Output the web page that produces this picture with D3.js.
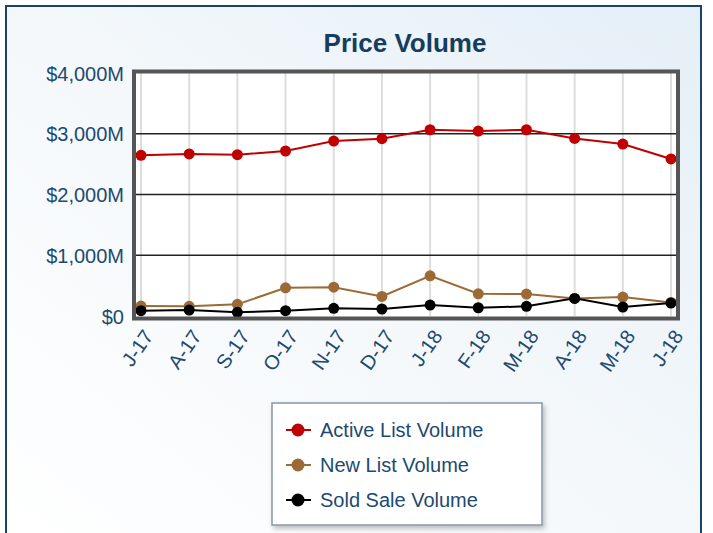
<!DOCTYPE html>
<html>
<head>
<meta charset="utf-8">
<script src="https://cdn.jsdelivr.net/npm/d3@7"></script>
<style>
  body { margin: 0; background: #ffffff; }
  svg { display: block; font-family: "Liberation Sans", Arial, sans-serif; }
</style>
</head>
<body>
<svg></svg>
<script>
// Chart values
const months = ["J-17", "A-17", "S-17", "O-17", "N-17", "D-17", "J-18", "F-18", "M-18", "A-18", "M-18 ", "J-18 "];
const activeList = [2645, 2667, 2656, 2716, 2880, 2918, 3066, 3044, 3066, 2923, 2831, 2585];
const newList = [164, 160, 192, 464, 475, 323, 661, 366, 361, 290, 311, 224];
const soldSale = [87, 98, 60, 87, 126, 115, 180, 136, 159, 290, 148, 213];
const yTicks = [0, 1000, 2000, 3000, 4000];

const seriesNames = ["Active List Volume", "New List Volume", "Sold Sale Volume"];
const seriesColors = ["#c00000", "#9c6b35", "#000000"];

function main() {
    const canvasWidth = 713;
    const canvasHeight = 533;

    let svg = d3.select("svg")
        .attr("width", canvasWidth)
        .attr("height", canvasHeight);

    // background gradient + dark page border
    let defs = svg.append("defs");
    let grad = defs.append("linearGradient")
        .attr("id", "bg")
        .attr("x1", "0%").attr("y1", "100%")
        .attr("x2", "100%").attr("y2", "0%");
    grad.append("stop").attr("offset", "0%").attr("stop-color", "#ffffff");
    grad.append("stop").attr("offset", "50%").attr("stop-color", "#f4f8fb");
    grad.append("stop").attr("offset", "100%").attr("stop-color", "#e5eff7");

    let shadow = defs.append("filter").attr("id", "shadow")
        .attr("x", "-10%").attr("y", "-10%").attr("width", "130%").attr("height", "130%");
    shadow.append("feDropShadow")
        .attr("dx", 2).attr("dy", 3).attr("stdDeviation", 2.5)
        .attr("flood-color", "#000").attr("flood-opacity", 0.25);

    svg.append("rect")
        .attr("x", 6).attr("y", 6)
        .attr("width", 695).attr("height", 540)
        .attr("fill", "url(#bg)")
        .attr("stroke", "#1b4268")
        .attr("stroke-width", 2);

    // plot region
    const plotLeft = 136, plotRight = 676, plotTop = 73, plotBottom = 316;

    let xScale = d3.scalePoint()
        .domain(months)
        .range([141, 671]);

    let yScale = d3.scaleLinear()
        .domain([0, 4000])
        .range([plotBottom, plotTop]);

    svg.append("rect")
        .attr("x", plotLeft).attr("y", plotTop)
        .attr("width", plotRight - plotLeft).attr("height", plotBottom - plotTop + 1)
        .attr("fill", "#ffffff");

    // vertical grid
    svg.append("g")
        .selectAll("line")
        .data(months)
        .join("line")
        .attr("x1", d => xScale(d)).attr("x2", d => xScale(d))
        .attr("y1", plotTop).attr("y2", plotBottom)
        .attr("stroke", "#dddddd")
        .attr("stroke-width", 2);

    // horizontal grid
    svg.append("g")
        .selectAll("line")
        .data(yTicks.filter(t => t > 0 && t < 4000))
        .join("line")
        .attr("x1", plotLeft).attr("x2", plotRight)
        .attr("y1", d => yScale(d)).attr("y2", d => yScale(d))
        .attr("stroke", "#222222")
        .attr("stroke-width", 1.5);

    // y axis labels
    let yAxis = d3.axisLeft(yScale)
        .tickValues(yTicks)
        .tickSize(0)
        .tickPadding(0)
        .tickFormat(d => d === 0 ? "$0" : "$" + d3.format(",")(d) + "M");
    svg.append("g")
        .attr("transform", `translate(124, 0)`)
        .call(yAxis)
        .call(g => g.select(".domain").remove())
        .selectAll("text")
        .attr("font-family", "'Liberation Sans', Arial, sans-serif")
        .attr("font-size", 20)
        .attr("fill", "#1d4a70")
        .attr("dy", "0.35em");

    // x axis labels, rotated
    let xAxis = d3.axisBottom(xScale).tickSize(0).tickPadding(0);
    svg.append("g")
        .attr("transform", `translate(0, ${plotBottom})`)
        .call(xAxis)
        .call(g => g.select(".domain").remove())
        .selectAll("text")
        .attr("font-family", "'Liberation Sans', Arial, sans-serif")
        .attr("font-size", 20)
        .attr("fill", "#1d4a70")
        .attr("y", 0)
        .attr("dy", 0)
        .attr("text-anchor", "end")
        .attr("transform", "translate(7, 16) rotate(-55)")
        .attr("dominant-baseline", "central");

    // series lines and points
    const allSeries = [activeList, newList, soldSale];
    let line = d3.line()
        .x((d, i) => xScale(months[i]))
        .y(d => yScale(d));

    // draw in order so sold sale is on top
    allSeries.forEach((values, k) => {
        svg.append("path")
            .datum(values)
            .attr("fill", "none")
            .attr("stroke", seriesColors[k])
            .attr("stroke-width", 2)
            .attr("d", line);
        svg.append("g")
            .selectAll("circle")
            .data(values)
            .join("circle")
            .attr("cx", (d, i) => xScale(months[i]))
            .attr("cy", d => yScale(d))
            .attr("r", 5.5)
            .attr("fill", seriesColors[k]);
    });

    // plot frame
    svg.append("rect")
        .attr("x", plotLeft - 2).attr("y", plotTop - 1.5)
        .attr("width", plotRight - plotLeft + 4).attr("height", plotBottom - plotTop + 4)
        .attr("fill", "none")
        .attr("stroke", "#555555")
        .attr("stroke-width", 4);

    // title
    svg.append("text")
        .text("Price Volume")
        .attr("x", 405)
        .attr("y", 52)
        .attr("font-size", 26)
        .attr("font-weight", "bold")
        .attr("fill", "#163d5e")
        .style("text-anchor", "middle");

    // legend
    let legend = svg.append("g");
    legend.append("rect")
        .attr("x", 272).attr("y", 403)
        .attr("width", 270).attr("height", 122)
        .attr("fill", "#ffffff")
        .attr("stroke", "#8797a8")
        .attr("stroke-width", 1.5)
        .attr("filter", "url(#shadow)");

    let items = legend.selectAll("g.item")
        .data(seriesNames)
        .join("g")
        .attr("class", "item")
        .attr("transform", (d, i) => `translate(0, ${430 + i * 35})`);
    items.append("line")
        .attr("x1", 286).attr("x2", 311)
        .attr("y1", 0).attr("y2", 0)
        .attr("stroke", (d, i) => seriesColors[i])
        .attr("stroke-width", 2);
    items.append("circle")
        .attr("cx", 298).attr("cy", 0).attr("r", 6.5)
        .attr("fill", (d, i) => seriesColors[i]);
    items.append("text")
        .text(d => d)
        .attr("x", 320)
        .attr("y", 0)
        .attr("dy", "0.35em")
        .attr("font-size", 20)
        .attr("fill", "#1d4a70");
}

main();
</script>
</body>
</html>
